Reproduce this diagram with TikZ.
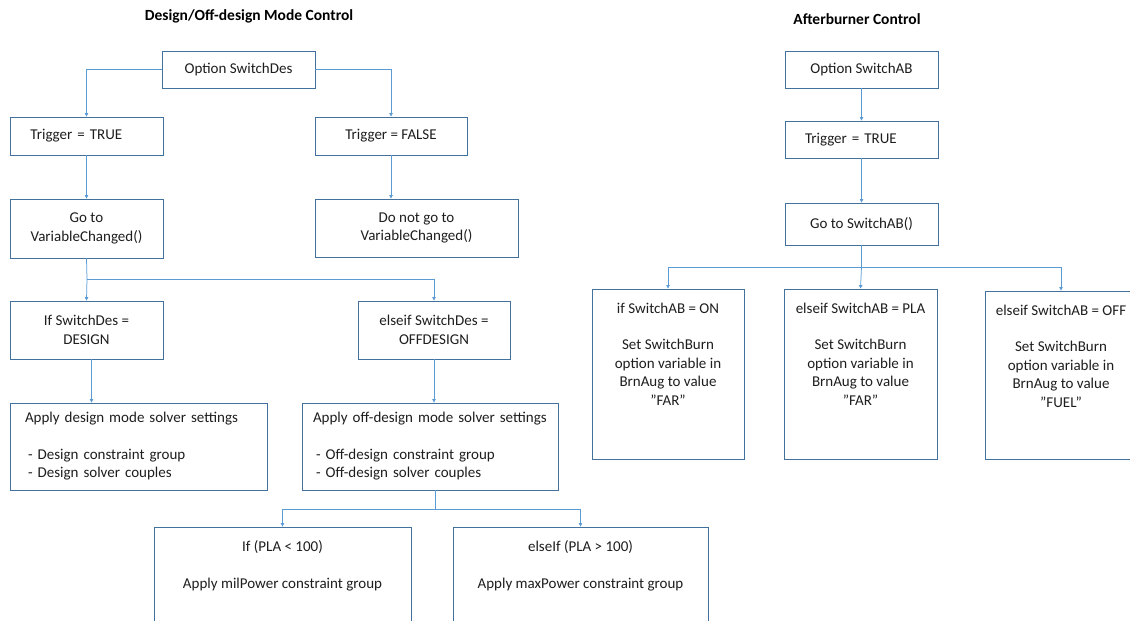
\documentclass[tikz,border=0pt]{standalone}
\usepackage{fontspec}
\setmainfont{Carlito}
\usetikzlibrary{arrows.meta, positioning}
\definecolor{edgeblue}{RGB}{65, 113, 156}
\definecolor{linkblue}{RGB}{91, 155, 213}
\definecolor{textdark}{RGB}{30, 30, 30}
\tikzset{
    flow box/.style={
        rectangle,
        draw=edgeblue,
        line width=0.9pt,
        fill=white,
        inner sep=0pt,
        align=center,
        text=textdark,
        font=\fontsize{15}{18.5}\selectfont
    },
    box text/.style={
        inner sep=0pt,
        align=center,
        text=textdark,
        font=\fontsize{15}{18.5}\selectfont
    },
    title text/.style={
        font=\fontsize{15.5}{18}\selectfont\bfseries,
        text=black
    },
    link/.style={
        line width=0.75pt,
        draw=linkblue
    },
    arrow/.style={
        link,
        -{Triangle[length=3.5pt, width=3.5pt]}
    }
}

\begin{document}
\begin{tikzpicture}[x=1pt, y=-1pt]

\useasboundingbox (0,0) rectangle (1130,621);
\clip (0,0) rectangle (1130,621);

% Titles
\node[title text] (destitle) at (249,16) {Design/Off-design Mode Control};
\node[title text] (abtitle) at (857,19) {Afterburner Control};

% Design / off-design branch
\node[flow box, minimum width=153pt, minimum height=37pt] (optdes) at (238.5,69.5) {Option SwitchDes};
\node[flow box, minimum width=153pt, minimum height=38pt, text width=112pt, inner xsep=20.5pt, align=left]
     (trigtrue) at (86.5,136) {Trigger = TRUE};
\node[flow box, minimum width=152pt, minimum height=38pt] (trigfalse) at (391,136) {Trigger = FALSE};
\node[flow box, minimum width=153pt, minimum height=59pt] (gotovar) at (86.5,228.5) {Go to\\VariableChanged()};
\node[flow box, minimum width=203pt, minimum height=58pt] (donotgo) at (416.5,228) {Do not go to\\VariableChanged()};
\node[flow box, minimum width=153pt, minimum height=58pt] (ifdes) at (86.5,330) {If SwitchDes =\\DESIGN};
\node[flow box, minimum width=152pt, minimum height=58pt] (elsedes) at (434,330) {elseif SwitchDes =\\OFFDESIGN};

\node[flow box, minimum width=257pt, minimum height=87pt, text width=227pt, inner xsep=15pt, align=left]
     (applydes) at (138.5,446.5) {
    Apply design mode solver settings\\[18pt]
    \hspace*{3pt}- Design constraint group\\
    \hspace*{3pt}- Design solver couples
};
\node[flow box, minimum width=256pt, minimum height=87pt, text width=234pt, inner xsep=11pt, align=left]
     (applyoff) at (430,446.5) {
    Apply off-design mode solver settings\\[18pt]
    \hspace*{3pt}- Off-design constraint group\\
    \hspace*{3pt}- Off-design solver couples
};

% PLA boxes (run off the bottom edge)
\node[flow box, minimum width=257pt, minimum height=123pt] (plalow) at (282.5,588.5) {};
\node[box text, below=14pt of plalow.north] (plalowtxt) {If (PLA < 100)\\[18pt]Apply milPower constraint group};
\node[flow box, minimum width=255pt, minimum height=123pt] (plahigh) at (580.5,588.5) {};
\node[box text, below=14pt of plahigh.north] (plahightxt) {elseIf (PLA > 100)\\[18pt]Apply maxPower constraint group};

% Afterburner branch
\node[flow box, minimum width=153pt, minimum height=37pt] (optab) at (861.5,69.5) {Option SwitchAB};
\node[flow box, minimum width=153pt, minimum height=37pt, text width=113pt, inner xsep=20pt, align=left]
     (trigab) at (861.5,139.5) {Trigger = TRUE};
\node[flow box, minimum width=153pt, minimum height=42pt] (gotoab) at (861.5,224) {Go to SwitchAB()};

\node[flow box, minimum width=152pt, minimum height=170pt] (abon) at (668,374) {};
\node[box text, below=14pt of abon.north] (abontxt)
     {if SwitchAB = ON\\[18pt]Set SwitchBurn\\option variable in\\BrnAug to value\\”FAR”};
\node[flow box, minimum width=153pt, minimum height=170pt] (abpla) at (860.5,374) {};
\node[box text, below=14pt of abpla.north] (abplatxt)
     {elseif SwitchAB = PLA\\[18pt]Set SwitchBurn\\option variable in\\BrnAug to value\\”FAR”};
\node[flow box, minimum width=152pt, minimum height=168pt] (aboff) at (1061,375) {};
\node[box text, below=14pt of aboff.north] (abofftxt)
     {elseif SwitchAB = OFF\\[18pt]Set SwitchBurn\\option variable in\\BrnAug to value\\”FUEL”};

% Junction points
\coordinate (desbus) at (87,279);
\coordinate (offbus) at (435,509);
\coordinate (abbus) at (861.5,267);

% === CONNECTORS ===
\draw[arrow] (optdes.west) -| (trigtrue.north);
\draw[arrow] (optdes.east) -| (trigfalse.north);
\draw[arrow] (trigtrue) -- (gotovar);
\draw[arrow] (trigfalse.south) -- (trigfalse.south |- donotgo.north);

\draw[link] (gotovar.south) -- (desbus);
\draw[arrow] (desbus) -- (ifdes.north);
\draw[arrow] (desbus) -| (elsedes.north);
\draw[arrow] ([xshift=5pt]ifdes.south) -- ([xshift=5pt]ifdes.south |- applydes.north);
\draw[arrow] (elsedes.south) -- (elsedes.south |- applyoff.north);

\draw[link] (applyoff.south -| offbus) -- (offbus);
\draw[arrow] (offbus) -| (plalow.north);
\draw[arrow] (offbus) -| (plahigh.north);

\draw[arrow] (optab) -- (trigab);
\draw[arrow] (trigab) -- (gotoab);
\draw[link] (gotoab.south) -- (abbus);
\draw[arrow] (abbus) -| (abon.north);
\draw[arrow] (abbus) -- (abpla.north);
\draw[arrow] (abbus) -| (aboff.north);

\end{tikzpicture}
\end{document}
